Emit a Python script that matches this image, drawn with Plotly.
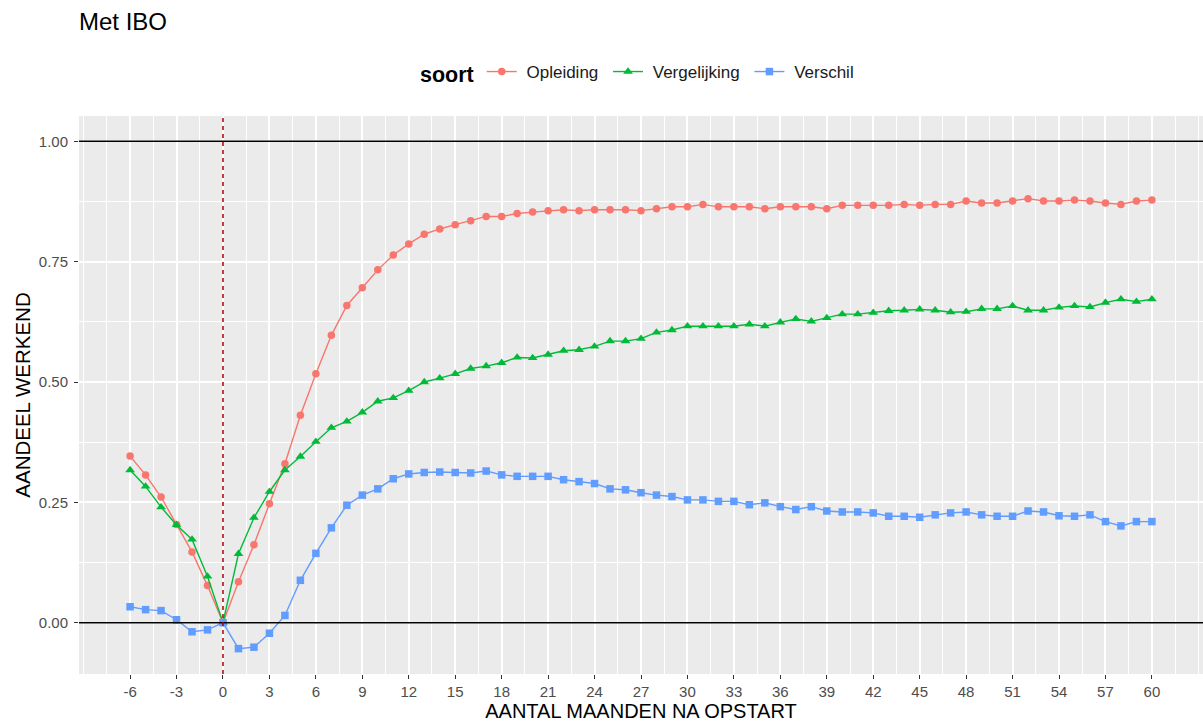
import plotly.graph_objects as go

# ---- data ----
months = list(range(-6, 61))

opleiding = [0.346, 0.307, 0.261, 0.204, 0.147, 0.077, 0.000, 0.085, 0.162, 0.247,
             0.330, 0.431, 0.517, 0.597, 0.659, 0.696, 0.733, 0.764, 0.787, 0.807,
             0.818, 0.827, 0.835, 0.844, 0.844, 0.850, 0.853, 0.856, 0.858, 0.856,
             0.858, 0.858, 0.858, 0.856, 0.860, 0.864, 0.864, 0.869, 0.864, 0.864,
             0.864, 0.860, 0.864, 0.864, 0.864, 0.860, 0.867, 0.867, 0.867, 0.867,
             0.869, 0.867, 0.869, 0.869, 0.876, 0.872, 0.872, 0.876, 0.881, 0.876,
             0.876, 0.878, 0.876, 0.872, 0.869, 0.876, 0.878]

vergelijking = [0.317, 0.283, 0.240, 0.203, 0.173, 0.096, 0.000, 0.143, 0.218, 0.272,
                0.317, 0.345, 0.376, 0.405, 0.418, 0.437, 0.460, 0.467, 0.482, 0.500,
                0.508, 0.517, 0.528, 0.533, 0.540, 0.551, 0.550, 0.557, 0.565, 0.567,
                0.574, 0.585, 0.585, 0.590, 0.603, 0.608, 0.616, 0.616, 0.616, 0.616,
                0.620, 0.616, 0.624, 0.631, 0.626, 0.633, 0.641, 0.641, 0.644, 0.648,
                0.649, 0.651, 0.649, 0.645, 0.646, 0.652, 0.652, 0.658, 0.649, 0.649,
                0.655, 0.658, 0.656, 0.665, 0.672, 0.667, 0.672]

verschil = [0.033, 0.027, 0.025, 0.006, -0.019, -0.015, 0.000, -0.054, -0.051, -0.022,
            0.015, 0.088, 0.144, 0.197, 0.244, 0.265, 0.278, 0.299, 0.309, 0.312,
            0.313, 0.312, 0.311, 0.315, 0.307, 0.304, 0.304, 0.304, 0.297, 0.293,
            0.289, 0.278, 0.276, 0.270, 0.265, 0.262, 0.255, 0.255, 0.252, 0.252,
            0.245, 0.249, 0.241, 0.235, 0.241, 0.232, 0.230, 0.230, 0.228, 0.221,
            0.221, 0.219, 0.224, 0.228, 0.230, 0.224, 0.221, 0.221, 0.232, 0.230,
            0.222, 0.221, 0.224, 0.210, 0.201, 0.210, 0.210]

series_names = ["Opleiding", "Vergelijking", "Verschil"]
series_values = [opleiding, vergelijking, verschil]
series_colors = ["#F8766D", "#00BA38", "#619CFF"]
series_symbols = ["circle", "triangle-up", "square"]
series_sizes = [7.5, 8.5, 7.5]

x_ticks = list(range(-6, 61, 3))
y_ticks = [0.0, 0.25, 0.5, 0.75, 1.0]
hline_values = [0.0, 1.0]
vline_value = 0

title_text = "Met IBO"
legend_title = "soort"
x_title = "AANTAL MAANDEN NA OPSTART"
y_title = "AANDEEL WERKEND"

# ---- ranges with ggplot-like 5% expansion ----
xmin, xmax = min(months), max(months)
xpad = (xmax - xmin) * 0.05
all_y = [v for s in series_values for v in s] + hline_values
ymin, ymax = min(all_y), max(all_y)
ypad = (ymax - ymin) * 0.05

x_minor = [x_ticks[0] - 3 + 1.5 * i for i in range(int((x_ticks[-1] - x_ticks[0] + 6) / 1.5) + 1)]
y_minor = [0.125, 0.375, 0.625, 0.875]

FONT = "Liberation Sans, Arial, sans-serif"
NB = "\u00a0"

fig = go.Figure()
for name, vals, col, sym, sz in zip(series_names, series_values, series_colors,
                                     series_symbols, series_sizes):
    fig.add_trace(go.Scatter(
        x=months, y=vals, name=NB + name + NB, mode="lines+markers",
        line=dict(color=col, width=1.4),
        marker=dict(symbol=sym, size=sz, color=col, line=dict(width=0)),
    ))

for hv in hline_values:
    fig.add_shape(type="line", xref="paper", x0=0, x1=1, yref="y", y0=hv, y1=hv,
                  line=dict(color="black", width=1.5), layer="above")
fig.add_shape(type="line", xref="x", x0=vline_value, x1=vline_value, yref="paper", y0=0, y1=1,
              line=dict(color="#A50000", width=1.5, dash="4px,4px"), layer="above")

fig.update_layout(
    width=1203, height=724,
    margin=dict(l=79, r=0, t=116, b=50, pad=0),
    paper_bgcolor="white", plot_bgcolor="#EBEBEB",
    font=dict(family=FONT, color="#4D4D4D"),
    title=dict(text=title_text, x=0.0, xref="paper", xanchor="left",
               y=1 - 22 / 724, yref="container", yanchor="middle",
               font=dict(size=24, color="black", family=FONT)),
    legend=dict(orientation="h", x=0.5, xanchor="center", xref="paper",
                y=1 - 73 / 724, yref="container", yanchor="middle",
                title=dict(text="<b>" + legend_title + "</b>", side="left",
                           font=dict(size=21.5, color="black", family=FONT)),
                font=dict(size=17, color="#1A1A1A", family=FONT),
                bgcolor="rgba(0,0,0,0)", itemwidth=30),
    showlegend=True,
)

fig.update_xaxes(
    range=[xmin - xpad, xmax + xpad], tickmode="array", tickvals=x_ticks,
    ticktext=[str(v) for v in x_ticks],
    showgrid=True, gridcolor="white", gridwidth=2,
    minor=dict(tickmode="array", tickvals=x_minor, showgrid=True, gridcolor="white",
               gridwidth=1, ticks=""),
    zeroline=False, showline=False,
    ticks="outside", ticklen=4, tickwidth=1.2, tickcolor="#333333",
    tickfont=dict(size=15, color="#4D4D4D", family=FONT),
    title=dict(text=x_title, font=dict(size=20, color="black", family=FONT), standoff=4),
)
fig.update_yaxes(
    range=[ymin - ypad, ymax + ypad], tickmode="array", tickvals=y_ticks,
    ticktext=["%.2f" % v for v in y_ticks],
    showgrid=True, gridcolor="white", gridwidth=2,
    minor=dict(tickmode="array", tickvals=y_minor, showgrid=True, gridcolor="white",
               gridwidth=1, ticks=""),
    zeroline=False, showline=False,
    ticks="outside", ticklen=4, tickwidth=1.2, tickcolor="#333333",
    ticklabelstandoff=3,
    tickfont=dict(size=15, color="#4D4D4D", family=FONT),
    title=dict(text=y_title, font=dict(size=20.5, color="black", family=FONT), standoff=2),
)

fig.write_html("out.html", config={"displayModeBar": False},
               post_script="document.body.style.margin='0';document.body.style.overflow='hidden';")
